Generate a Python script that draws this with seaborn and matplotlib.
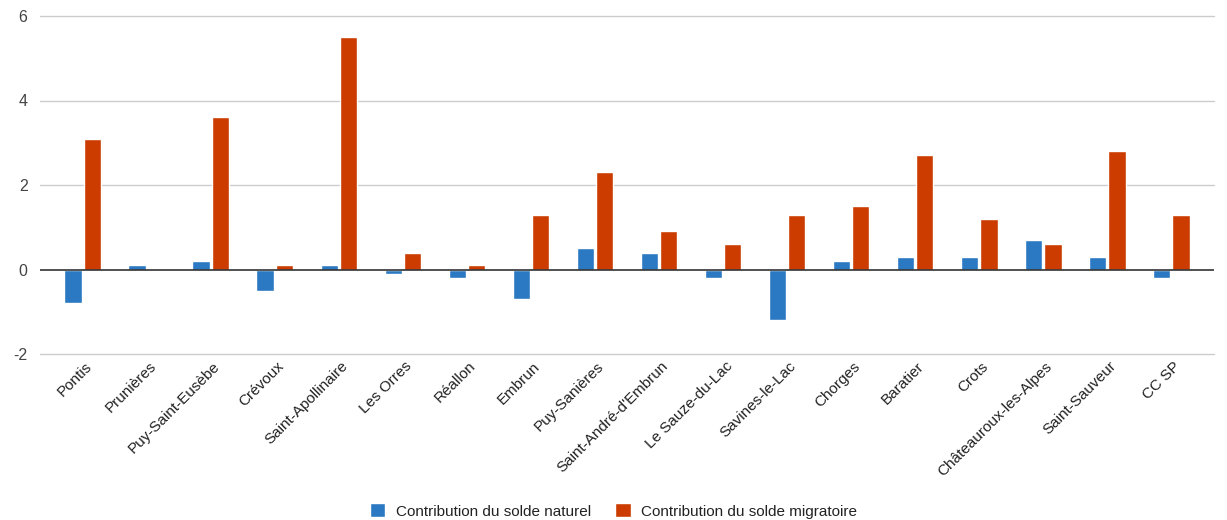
import matplotlib
matplotlib.use("Agg")
import matplotlib.pyplot as plt
import matplotlib.transforms as mtransforms
import seaborn as sns
import pandas as pd

communes = ["Pontis", "Prunières", "Puy-Saint-Eusèbe", "Crévoux", "Saint-Apollinaire",
            "Les Orres", "Réallon", "Embrun", "Puy-Sanières", "Saint-André-d'Embrun",
            "Le Sauze-du-Lac", "Savines-le-Lac", "Chorges", "Baratier", "Crots",
            "Châteauroux-les-Alpes", "Saint-Sauveur", "CC SP"]
solde_naturel = [-0.8, 0.1, 0.2, -0.5, 0.1, -0.1, -0.2, -0.7, 0.5, 0.4,
                 -0.2, -1.2, 0.2, 0.3, 0.3, 0.7, 0.3, -0.2]
solde_migratoire = [3.1, 0.0, 3.6, 0.1, 5.5, 0.4, 0.1, 1.3, 2.3, 0.9,
                    0.6, 1.3, 1.5, 2.7, 1.2, 0.6, 2.8, 1.3]
series_names = ["Contribution du solde naturel", "Contribution du solde migratoire"]
y_ticks = [-2, 0, 2, 4, 6]

df = pd.DataFrame({
    "commune": communes * 2,
    "valeur": solde_naturel + solde_migratoire,
    "serie": [series_names[0]] * len(communes) + [series_names[1]] * len(communes),
})

sns.set_theme(style="white")
plt.rcParams["font.family"] = ["Liberation Sans", "DejaVu Sans"]

fig = plt.figure(figsize=(12.27, 5.2), dpi=100)
ax = fig.add_axes([40 / 1227, 1 - 354 / 520, (1214 - 40) / 1227, (354 - 16) / 520])

palette = {series_names[0]: "#2b78c3", series_names[1]: "#cc3c00"}
sns.barplot(data=df, x="commune", y="valeur", hue="serie", palette=palette,
            width=0.6, gap=0.08, saturation=1, ax=ax, legend=True, zorder=3)

ax.set_ylim(-2, 6)
ax.set_xlim(-0.67, len(communes) - 0.33)
ax.set_yticks(y_ticks)
ax.set_yticklabels([str(t) for t in y_ticks], fontsize=11.5, color="#444444")
ax.tick_params(axis="y", length=0, pad=9)
ax.tick_params(axis="x", length=0, pad=3)
ax.set_xticks(range(len(communes)))
ax.set_xticklabels(communes, rotation=45, ha="right", rotation_mode="anchor",
                   fontsize=11, color="#222222")
shift = mtransforms.ScaledTranslation(2 / 100, -1 / 100, fig.dpi_scale_trans)
for lbl in ax.get_xticklabels():
    lbl.set_transform(lbl.get_transform() + shift)
ax.set_xlabel("")
ax.set_ylabel("")
for s in ax.spines.values():
    s.set_visible(False)

# horizontal gridlines, kept unclipped so the bottom one stays fully visible
for t in y_ticks:
    if t != 0:
        ax.axhline(t, color="#cccccc", linewidth=1, zorder=0, clip_on=False)
ax.axhline(0, color="#333333", linewidth=1.2, zorder=4)

handles, labels = ax.get_legend_handles_labels()
ax.legend_.remove()
fig.legend(handles, labels, loc="center", bbox_to_anchor=(0.5, 1 - 511 / 520),
           ncol=2, frameon=False, fontsize=11, handlelength=1.0, handleheight=1.0,
           columnspacing=1.6, handletextpad=0.7, labelcolor="#222222")

fig.savefig("out.png", dpi=100)
